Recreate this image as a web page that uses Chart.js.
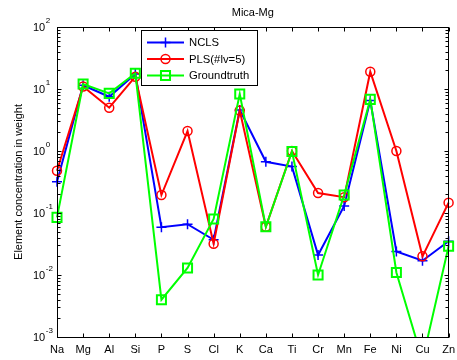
<!DOCTYPE html>
<html>
<head>
<meta charset="utf-8">
<script src="https://cdn.jsdelivr.net/npm/chart.js@4/dist/chart.umd.min.js"></script>
<style>
  html, body { margin: 0; padding: 0; background: #fff; }
</style>
</head>
<body>
<canvas id="chart" width="457" height="360"></canvas>
<script>
// Elements along the x axis
const elements = ['Na', 'Mg', 'Al', 'Si', 'P', 'S', 'Cl', 'K', 'Ca', 'Ti', 'Cr', 'Mn', 'Fe', 'Ni', 'Cu', 'Zn'];

// Estimated concentrations per method
const nclsValues  = [0.32, 11.5, 7.5, 17.5, 0.059, 0.066, 0.037, 4.6, 0.67, 0.56, 0.021, 0.13, 6.5, 0.024, 0.017, 0.035];
const plsValues   = [0.48, 11, 5.0, 15.8, 0.195, 2.1, 0.032, 4.5, 0.06, 1.0, 0.21, 0.18, 19, 1.0, 0.02, 0.147];
const truthValues = [0.085, 12, 8.5, 17.9, 0.004, 0.013, 0.08, 8.3, 0.06, 0.98, 0.01, 0.195, 6.8, 0.011, 0.00042, 0.029];

// Log axis decades and their exponent labels
const yDecades   = [1e-3, 1e-2, 1e-1, 1, 10, 100];
const yExponents = ['-3', '-2', '-1', '0', '1', '2'];

const titleText  = 'Mica-Mg';
const yTitleText = 'Element concentration in weight';
const FONT = '"Liberation Sans", Arial, sans-serif';

const series = [
  { label: 'NCLS',        data: nclsValues,  color: '#0000ff', style: 'cross',  radius: 5,   width: 1.5, order: 3 },
  { label: 'PLS(#lv=5)',  data: plsValues,   color: '#ff0000', style: 'circle', radius: 4.5, width: 1.5, order: 2 },
  { label: 'Groundtruth', data: truthValues, color: '#00ff00', style: 'rect',   radius: 6.4, width: 2,   order: 1 }
];

function drawMarker(ctx, s, x, y) {
  ctx.save();
  ctx.strokeStyle = s.color;
  ctx.lineWidth = s.width;
  ctx.beginPath();
  if (s.style === 'cross') {
    ctx.moveTo(x - s.radius, y); ctx.lineTo(x + s.radius, y);
    ctx.moveTo(x, y - s.radius); ctx.lineTo(x, y + s.radius);
  } else if (s.style === 'circle') {
    ctx.arc(x, y, s.radius, 0, Math.PI * 2);
  } else {
    const h = s.radius * Math.SQRT1_2;
    ctx.rect(x - h, y - h, 2 * h, 2 * h);
  }
  ctx.stroke();
  ctx.restore();
}

// Matlab-like axes box: inward ticks, sci labels, titles and boxed legend
const axesBox = {
  id: 'axesBox',
  afterDraw(chart) {
    const ctx = chart.ctx;
    const a = chart.chartArea;
    const xs = chart.scales.x;
    const ys = chart.scales.y;
    const L = Math.round(a.left) + 0.5, R = Math.round(a.right) - 0.5;
    const T = Math.round(a.top) + 0.5, B = Math.round(a.bottom) + 0.5;

    ctx.save();
    ctx.strokeStyle = '#000';
    ctx.lineWidth = 1;
    ctx.strokeRect(L, T, R - L, B - T);

    // category ticks on top and bottom
    ctx.beginPath();
    elements.forEach((el, i) => {
      const px = Math.round(xs.getPixelForValue(i)) + 0.5;
      ctx.moveTo(px, B); ctx.lineTo(px, B - 4);
      ctx.moveTo(px, T); ctx.lineTo(px, T + 4);
    });
    // decade and minor ticks on left and right
    yDecades.forEach((d, k) => {
      const py = Math.round(ys.getPixelForValue(d)) + 0.5;
      ctx.moveTo(L, py); ctx.lineTo(L + 4, py);
      ctx.moveTo(R, py); ctx.lineTo(R - 4, py);
      if (k < yDecades.length - 1) {
        for (let m = 2; m <= 9; m++) {
          const my = Math.round(ys.getPixelForValue(d * m)) + 0.5;
          ctx.moveTo(L, my); ctx.lineTo(L + 3, my);
          ctx.moveTo(R, my); ctx.lineTo(R - 3, my);
        }
      }
    });
    ctx.stroke();

    // x labels
    ctx.fillStyle = '#000';
    ctx.font = '11px ' + FONT;
    ctx.textAlign = 'center';
    ctx.textBaseline = 'middle';
    elements.forEach((el, i) => {
      ctx.fillText(el, xs.getPixelForValue(i), B + 12);
    });

    // y labels as 10 with superscript exponent
    yDecades.forEach((d, k) => {
      const py = ys.getPixelForValue(d);
      ctx.font = '11px ' + FONT;
      ctx.textAlign = 'left';
      ctx.fillText('10', 33, py + 1);
      const w = ctx.measureText('10').width;
      ctx.font = '8px ' + FONT;
      ctx.fillText(yExponents[k], 33 + w + 0.5, py - 6);
    });

    // titles
    ctx.font = '11px ' + FONT;
    ctx.textAlign = 'center';
    ctx.fillText(titleText, (a.left + a.right) / 2, 13);
    ctx.save();
    ctx.translate(19, (a.top + a.bottom) / 2);
    ctx.rotate(-Math.PI / 2);
    ctx.fillText(yTitleText, 0, 0);
    ctx.restore();

    // legend
    ctx.fillStyle = '#fff';
    ctx.fillRect(141.5, 30.5, 116, 55);
    ctx.strokeRect(141.5, 30.5, 116, 55);
    const rows = [42.5, 59, 75.5];
    ctx.font = '11.3px ' + FONT;
    ctx.textAlign = 'left';
    series.forEach((s, i) => {
      const y = rows[i];
      ctx.strokeStyle = s.color;
      ctx.lineWidth = 2;
      ctx.beginPath();
      ctx.moveTo(147, y); ctx.lineTo(184, y);
      ctx.stroke();
      drawMarker(ctx, s, 165.5, y);
      ctx.fillStyle = '#000';
      ctx.fillText(s.label, 189, y + 0.5);
    });
    ctx.restore();
  }
};

const ctx = document.getElementById('chart').getContext('2d');
new Chart(ctx, {
  type: 'line',
  data: {
    labels: elements,
    datasets: series.map(s => ({
      label: s.label,
      data: s.data,
      order: s.order,
      borderColor: s.color,
      backgroundColor: 'rgba(0,0,0,0)',
      borderWidth: 2,
      tension: 0,
      fill: false,
      pointStyle: s.style,
      pointRadius: s.radius,
      pointBorderWidth: s.width,
      pointBorderColor: s.color,
      pointBackgroundColor: 'rgba(0,0,0,0)',
      clip: { left: 10, top: 10, right: 10, bottom: 0 }
    }))
  },
  options: {
    responsive: false,
    animation: false,
    layout: { padding: { left: 57, top: 27, right: 7, bottom: 23 } },
    scales: {
      x: { display: false, offset: false },
      y: { type: 'logarithmic', display: false, min: 1e-3, max: 100 }
    },
    plugins: {
      legend: { display: false },
      tooltip: { enabled: false }
    }
  },
  plugins: [axesBox]
});
</script>
</body>
</html>
